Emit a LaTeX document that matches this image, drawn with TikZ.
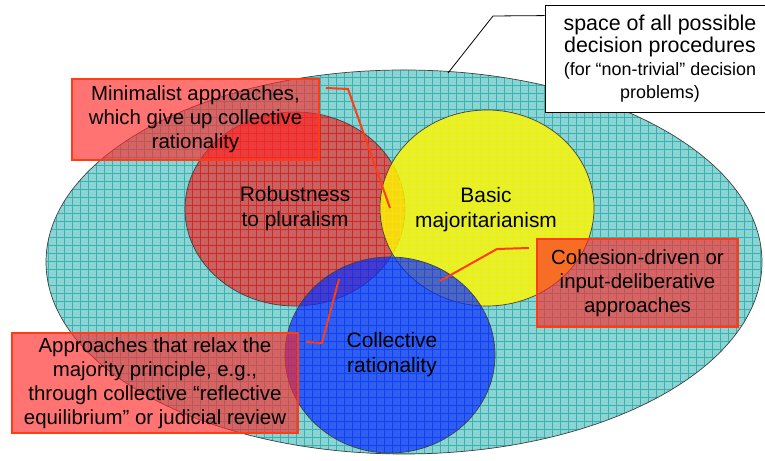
\documentclass[tikz,border=0pt]{standalone}
\usepackage{fontspec}
\setmainfont{Liberation Sans}
\usepackage{xcolor}
\usepackage{tikz}
\usetikzlibrary{calc}
\definecolor{space}{HTML}{8AD4D4}
\definecolor{spacegrid}{HTML}{3AB0B0}
\definecolor{robust}{HTML}{FF0000}
\definecolor{major}{HTML}{FFF800}
\definecolor{collect}{HTML}{0A2DFD}
\definecolor{callfill}{HTML}{FF2828}
\definecolor{callline}{HTML}{FF3C14}
\tikzset{
  region/.style={draw=black!75,line width=0.7bp},
  texture/.style={line width=0.6bp,step=8bp},
  setname/.style={align=center,font=\fontsize{21}{25}\selectfont},
  callbox/.style={rectangle,draw=callline,line width=2bp,fill=callfill,
    fill opacity=0.65,text opacity=1,align=center,
    font=\fontsize{20.5}{24}\selectfont},
  notebox/.style={rectangle,draw=black,line width=0.8bp,fill=white,
    align=center,font=\fontsize{18}{23}\selectfont},
  callpin/.style={draw=callline,line width=2bp},
  notepin/.style={draw=black,line width=0.8bp},
}

\begin{document}
\begin{tikzpicture}[x=1bp,y=1bp]
  \useasboundingbox (0,0) rectangle (765,461);
  % the whole space
  \fill[space] (404,199) ellipse [x radius=358,y radius=192];
  \begin{scope}
    \clip (404,199) ellipse [x radius=358,y radius=192];
    \draw[texture,spacegrid] (40,0) grid (770,400);
  \end{scope}
  \draw[region] (404,199) ellipse [x radius=358,y radius=192];
  % three properties
  \foreach \cx/\cy/\rx/\ry/\col/\op in {295/252/110/97/robust/0.54,
      487/253/107/98/major/0.8, 390/106/105/98/collect/0.7}{
    \fill[\col,fill opacity=\op] (\cx,\cy) ellipse [x radius=\rx,y radius=\ry];
    \begin{scope}
      \clip (\cx,\cy) ellipse [x radius=\rx,y radius=\ry];
      \draw[texture,\col,opacity=0.5] (\cx-\rx,\cy-\ry) grid (\cx+\rx,\cy+\ry);
    \end{scope}
    \draw[region] (\cx,\cy) ellipse [x radius=\rx,y radius=\ry];
  }
  \node[setname] (robustness) at (295,252) {Robustness\\to pluralism};
  \node[setname] (basic) at (486,251) {Basic\\majoritarianism};
  \node[setname] (collective) at (392,106) {Collective\\rationality};
  % callouts
  \node[callbox,minimum width=247bp,minimum height=81bp] (minimal) at (195.5,341.5)
    {Minimalist approaches,\\which give up collective\\rationality};
  \node[callbox,minimum width=201bp,minimum height=88bp] (cohesion) at (637.5,178)
    {Cohesion-driven or\\input-deliberative\\approaches};
  \node[callbox,minimum width=286bp,minimum height=100bp] (relax) at (155,78)
    {Approaches that relax the\\majority principle, e.g.,\\through collective “reflective\\equilibrium” or judicial review};
  \node[notebox,minimum width=230bp,minimum height=107bp] (space) at (660,402.5)
    {{\fontsize{21.5}{26}\selectfont space of all possible}\\
     {\fontsize{21.5}{26}\selectfont decision procedures}\\
     (for “non-trivial” decision\\problems)};
  \coordinate (lens) at (390,253);
  \coordinate (minibend) at (348,372);
  \coordinate (blueyellow) at (440,180);
  \coordinate (cohbend) at (497,212);
  \coordinate (redblue) at (339,182);
  \coordinate (relaxbend) at (322,118);
  \coordinate (rim) at (448,388);
  \coordinate (spacebend) at (493,445);
  \draw[callpin] ([shift={(6,-10)}]minimal.north east) -- (minibend) -- (lens);
  \draw[callpin] ([shift={(-7,-10)}]cohesion.north west) -- (cohbend) -- (blueyellow);
  \draw[callpin] ([shift={(7,-10)}]relax.north east) -- (relaxbend) -- (redblue);
  \draw[notepin] ([shift={(0,-11)}]space.north west) -- (spacebend) -- (rim);
\end{tikzpicture}
\end{document}
